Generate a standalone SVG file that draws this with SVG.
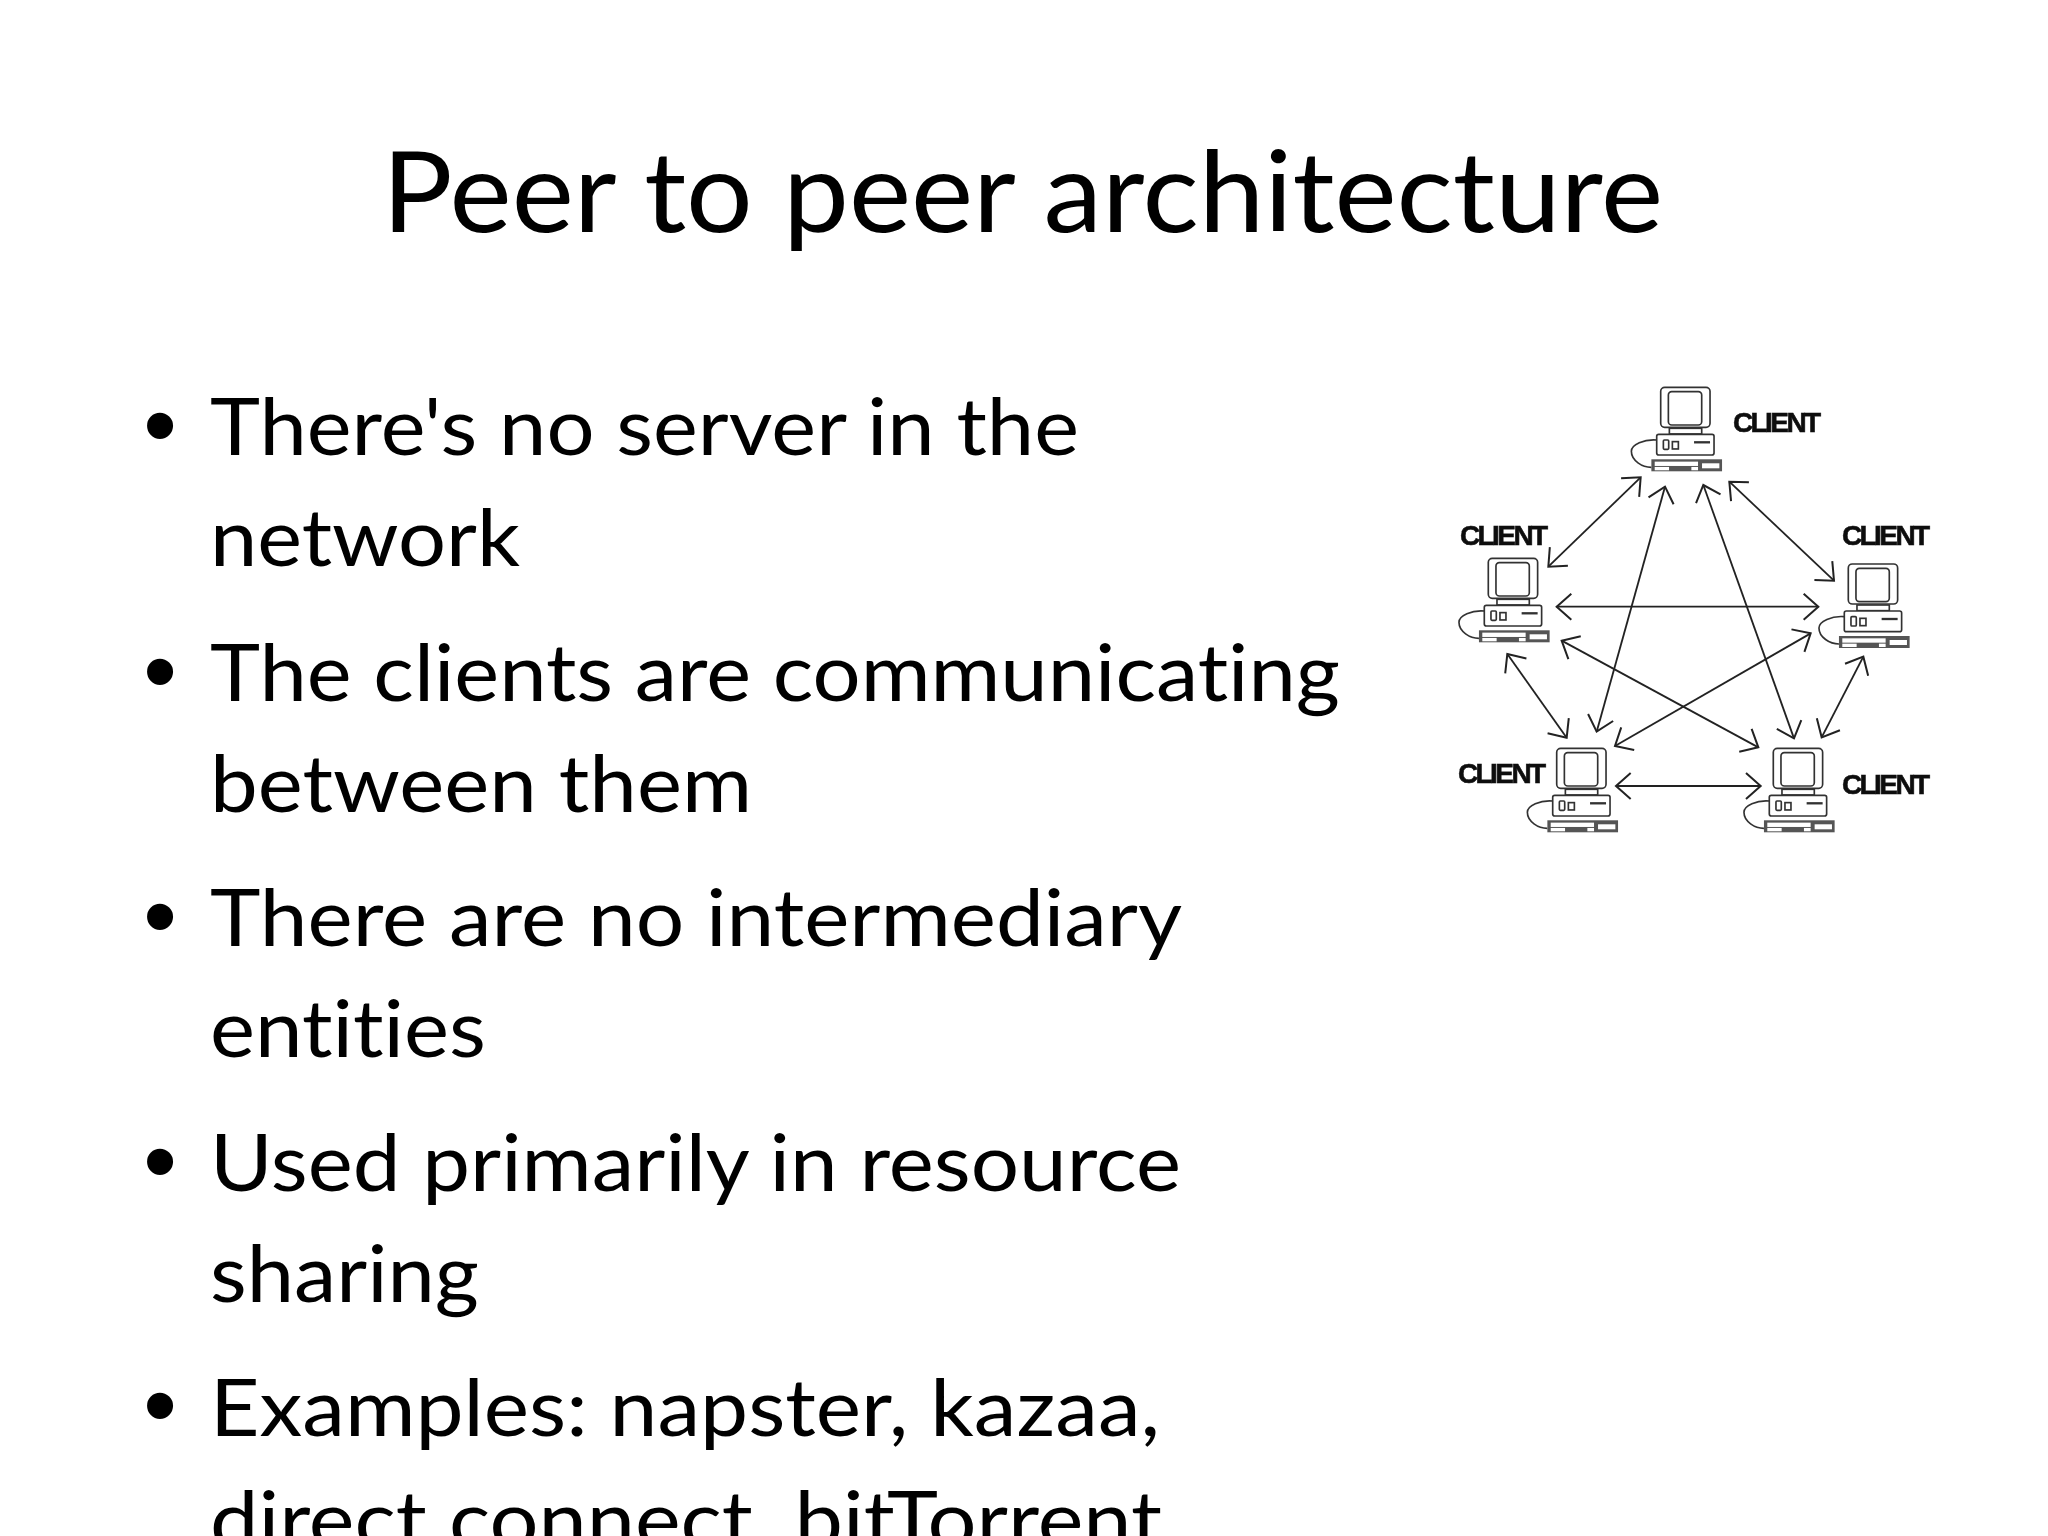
<svg xmlns="http://www.w3.org/2000/svg" width="2048" height="1536" viewBox="0 0 2048 1536">
<style>
.t{font-family:Lato,"Open Sans","Liberation Sans",sans-serif;fill:#000;font-variant-ligatures:none}
.title{font-size:112px}
.b{font-size:80px}
.d{font-family:"Liberation Sans",Arial,sans-serif;font-size:96px;fill:#000;text-anchor:middle}
.c{font-family:"Liberation Sans",Arial,sans-serif;font-weight:bold;font-size:28px;letter-spacing:-2.6px;fill:#111;stroke:#111;stroke-width:.6px}
.l{fill:#fff;stroke:#333;stroke-width:5}
.ln{fill:none;stroke:#333;stroke-width:5}
.a{fill:none;stroke:#222;stroke-width:5.5;marker-start:url(#h);marker-end:url(#h)}
</style>
<defs>
<filter id="soft" x="-5%" y="-5%" width="110%" height="110%"><feGaussianBlur stdDeviation=".45"/></filter>
<marker id="h" markerUnits="userSpaceOnUse" markerWidth="100" markerHeight="100" refX="62" refY="50" orient="auto-start-reverse" viewBox="0 0 100 100">
<path d="M18 11 L62 50 L18 89" fill="none" stroke="#222" stroke-width="6"/>
</marker>
<g id="pc">
<rect class="l" x="0" y="0" width="148" height="120" rx="12"/>
<rect class="l" x="23" y="13" width="100" height="100" rx="10"/>
<rect class="l" x="26" y="123" width="97" height="17"/>
<rect class="l" x="-12" y="141" width="172" height="62" rx="6"/>
<rect class="l" x="8" y="158" width="16" height="28" rx="3"/>
<rect class="l" x="35" y="163" width="18" height="22"/>
<path d="M100 165H148" stroke="#333" stroke-width="7"/>
<path class="ln" d="M-12 158C-50 155 -88 172 -88 192C-88 220 -55 240 -28 240"/>
<rect x="-28" y="216" width="212" height="36" fill="#555"/>
<rect x="-18" y="223" width="130" height="13" fill="#fff"/>
<rect x="-18" y="239" width="43" height="10" fill="#fff"/>
<rect x="92" y="239" width="20" height="10" fill="#fff"/>
<rect x="124" y="228" width="52" height="15" fill="#fff"/>
</g>
</defs>
<rect width="2048" height="1536" fill="#fff"/>
<text id="title" class="t title" x="382" y="232" textLength="1281" lengthAdjust="spacingAndGlyphs">Peer to peer architecture</text>
<g id="bullets">
<g><text class="d" x="160" y="458">•</text><text class="t b" x="210" y="455" textLength="869" lengthAdjust="spacingAndGlyphs">There's no server in the</text><text class="t b" x="210" y="566" textLength="310" lengthAdjust="spacingAndGlyphs">network</text></g>
<g><text class="d" x="160" y="704">•</text><text class="t b" x="210" y="701" textLength="1130" lengthAdjust="spacingAndGlyphs">The clients are communicating</text><text class="t b" x="210" y="812" textLength="542" lengthAdjust="spacingAndGlyphs">between them</text></g>
<g><text class="d" x="160" y="949">•</text><text class="t b" x="210" y="946" textLength="972" lengthAdjust="spacingAndGlyphs">There are no intermediary</text><text class="t b" x="210" y="1057" textLength="276" lengthAdjust="spacingAndGlyphs">entities</text></g>
<g><text class="d" x="160" y="1194">•</text><text class="t b" x="210" y="1191" textLength="971" lengthAdjust="spacingAndGlyphs">Used primarily in resource</text><text class="t b" x="210" y="1302" textLength="269" lengthAdjust="spacingAndGlyphs">sharing</text></g>
<g><text class="d" x="160" y="1438">•</text><text class="t b" x="210" y="1436" textLength="950" lengthAdjust="spacingAndGlyphs">Examples: napster, kazaa,</text><text class="t b" x="210" y="1548" textLength="952" lengthAdjust="spacingAndGlyphs">direct connect, bitTorrent</text></g>
</g>
<g filter="url(#soft)">
<g id="connectors" transform="translate(1430 370) scale(.33333)">
<line class="a" x1="355" y1="590" x2="632" y2="322"/>
<line class="a" x1="705" y1="350" x2="500" y2="1085"/>
<line class="a" x1="820" y1="345" x2="1092" y2="1105"/>
<line class="a" x1="898" y1="335" x2="1212" y2="632"/>
<line class="a" x1="380" y1="710" x2="1165" y2="710"/>
<line class="a" x1="395" y1="812" x2="985" y2="1132"/>
<line class="a" x1="1142" y1="790" x2="555" y2="1128"/>
<line class="a" x1="232" y1="852" x2="410" y2="1103"/>
<line class="a" x1="1300" y1="860" x2="1175" y2="1102"/>
<line class="a" x1="558" y1="1248" x2="992" y2="1248"/>
</g>
<g id="client-top"><use href="#pc" transform="translate(1660.7 387.3) scale(.33333)"/><text class="c" x="1733" y="432">CLIENT</text></g>
<g id="client-left"><use href="#pc" transform="translate(1488.3 558.3) scale(.33333)"/><text class="c" x="1460" y="545">CLIENT</text></g>
<g id="client-right"><use href="#pc" transform="translate(1848.3 564) scale(.33333)"/><text class="c" x="1842" y="545">CLIENT</text></g>
<g id="client-bottom-left"><use href="#pc" transform="translate(1556.7 748.3) scale(.33333)"/><text class="c" x="1458" y="783">CLIENT</text></g>
<g id="client-bottom-right"><use href="#pc" transform="translate(1773.3 748.3) scale(.33333)"/><text class="c" x="1842" y="794">CLIENT</text></g>
</g>
</svg>
